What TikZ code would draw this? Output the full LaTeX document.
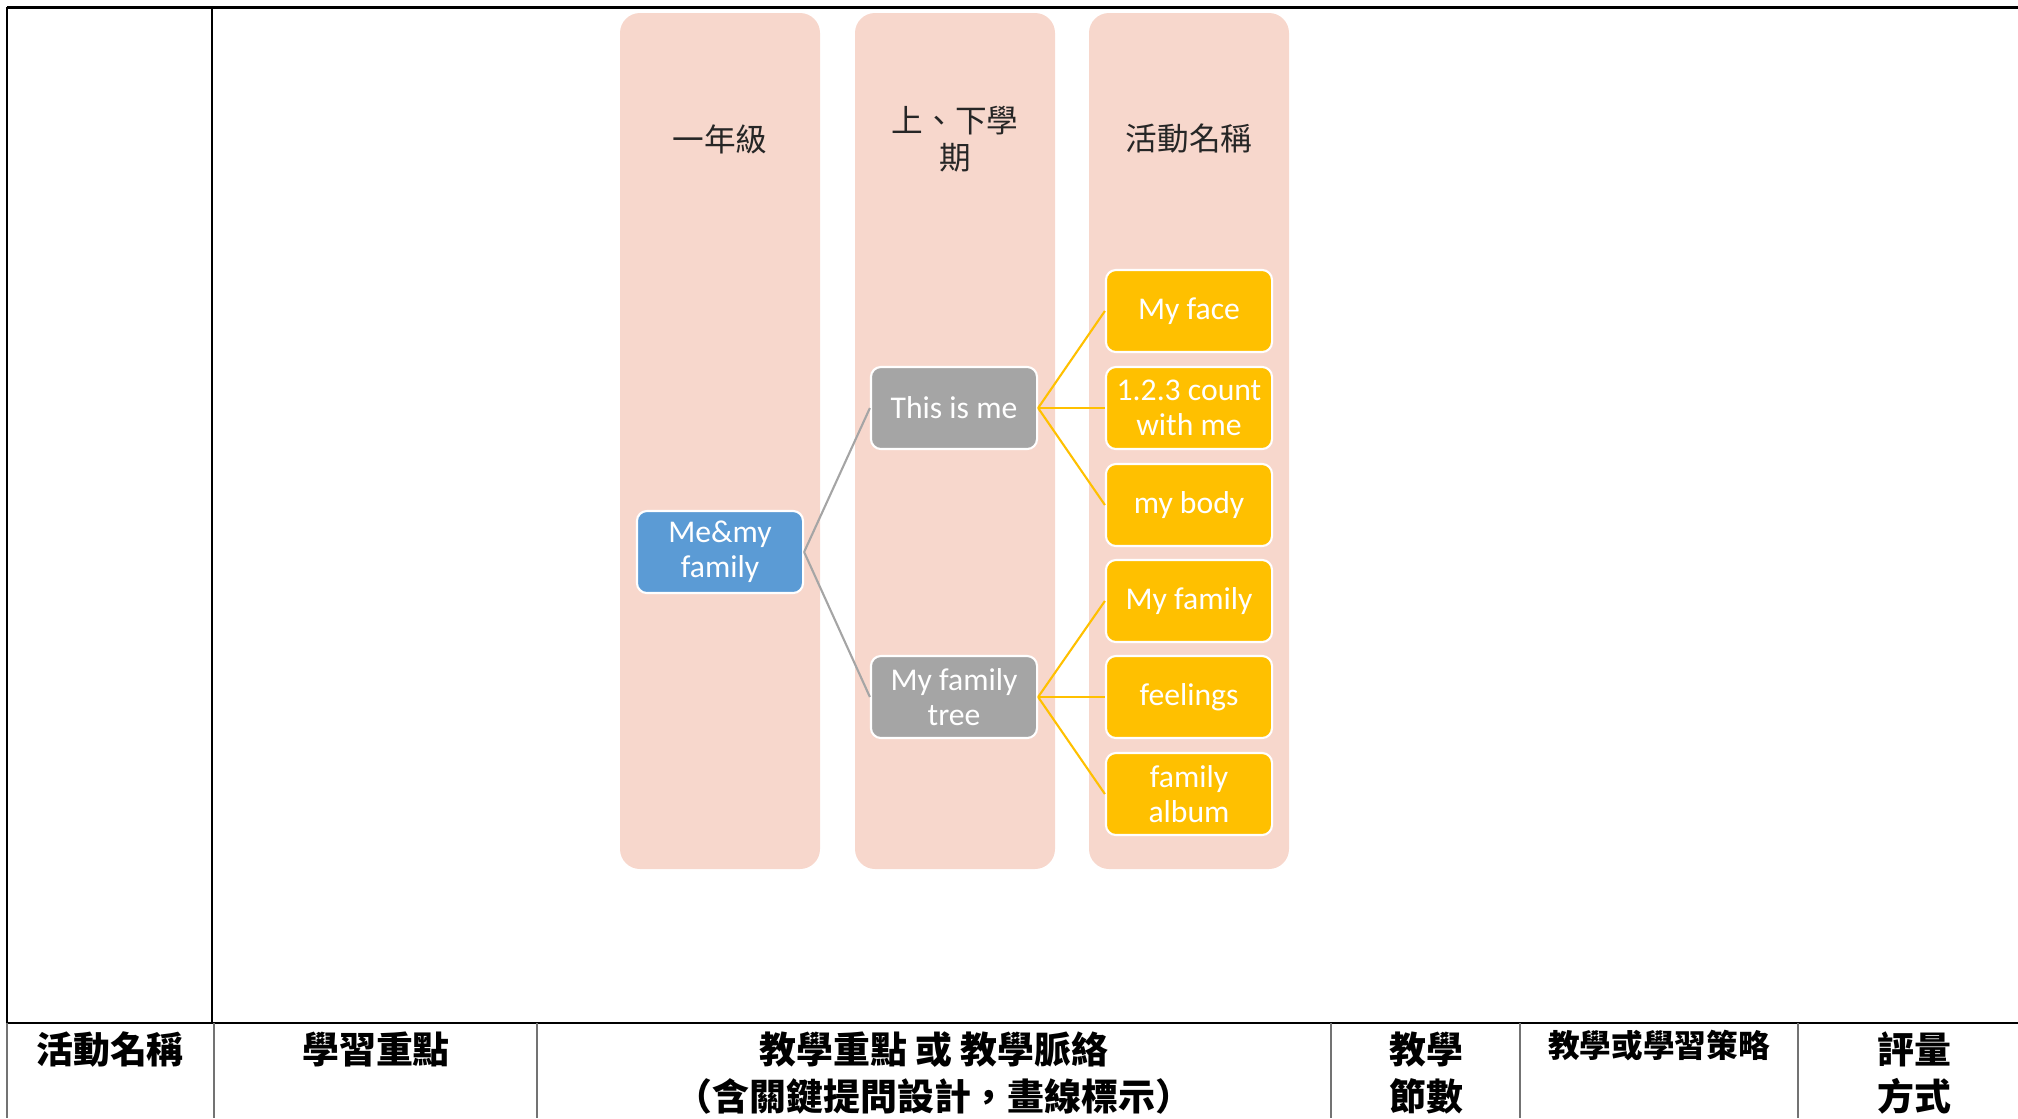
\documentclass[tikz,border=0pt]{standalone}
\usepackage{fontspec}
\setmainfont{Carlito}
\newfontfamily\cjk{Noto Sans CJK TC}
\definecolor{bandpink}{HTML}{F7D7CC}
\definecolor{rootblue}{HTML}{5B9BD5}
\definecolor{termgray}{HTML}{A5A5A5}
\definecolor{actorange}{HTML}{FFC000}

\begin{document}
\begin{tikzpicture}[x=0.01cm,y=-0.01cm,
  box/.style={draw=white,line width=0.6pt,rounded corners=1mm,minimum width=1.66cm,
    minimum height=0.82cm,inner sep=1pt,align=center,text=white,
    font=\fontsize{9}{10}\selectfont},
  head/.style={align=center,text=black!85,font=\cjk\fontsize{9}{10.6}\selectfont},
  cell/.style={align=center,font=\cjk\bfseries\fontsize{10.5}{13.6}\selectfont},
  glink/.style={termgray,line width=0.6pt},
  olink/.style={actorange,line width=0.6pt}]
\useasboundingbox (0,0) rectangle (2018,1118);
%table
\draw[line width=0.7pt] (7,7.5) -- (2018,7.5);
\draw[line width=0.7pt] (7,7) -- (7,1023) (212,7) -- (212,1023);
\draw[line width=0.7pt] (7,1023) -- (2018,1023);
\foreach \x in {7,214,537,1331,1520,1798}
  \draw[black!55,line width=0.3pt] (\x,1023) -- (\x,1118);
\node[cell] (name) at (110,1049) {活動名稱};
\node[cell] (focus) at (376,1049) {學習重點};
\node[cell] (flow) at (934,1073) {教學重點 或 教學脈絡\\（含關鍵提問設計，畫線標示）};
\node[cell] (hours) at (1426,1073) {教學\\節數};
\node[cell,font=\cjk\bfseries\fontsize{9}{10}\selectfont] (strategy) at (1659,1045) {教學或學習策略};
\node[cell] (assess) at (1914,1073) {評量\\方式};
%bands
\foreach \x in {620,855,1089}
  \fill[bandpink,rounded corners=2mm] (\x,13) rectangle ++(200,856);
\node[head] (grade) at (720,139) {一年級};
\node[head] (term) at (955,139) {上、下學\\期};
\node[head] (acts) at (1189,139) {活動名稱};
%tree
\node[box,fill=rootblue] (root) at (720,552) {Me\&my\\family};
\node[box,fill=termgray] (me) at (954,408) {This is me};
\node[box,fill=termgray] (tree) at (954,697) {My family\\tree};
\node[box,fill=actorange] (face) at (1189,311) {My face};
\node[box,fill=actorange] (count) at (1189,408) {1.2.3 count\\with me};
\node[box,fill=actorange] (body) at (1189,505) {my body};
\node[box,fill=actorange] (fam) at (1189,601) {My family};
\node[box,fill=actorange] (feel) at (1189,697) {feelings};
\node[box,fill=actorange] (album) at (1189,794) {family\\album};
\draw[glink] (root.east) -- (me.west) (root.east) -- (tree.west);
\foreach \a in {face,count,body}
  \draw[olink] (me.east) -- (\a.west);
\foreach \a in {fam,feel,album}
  \draw[olink] (tree.east) -- (\a.west);
\end{tikzpicture}
\end{document}
